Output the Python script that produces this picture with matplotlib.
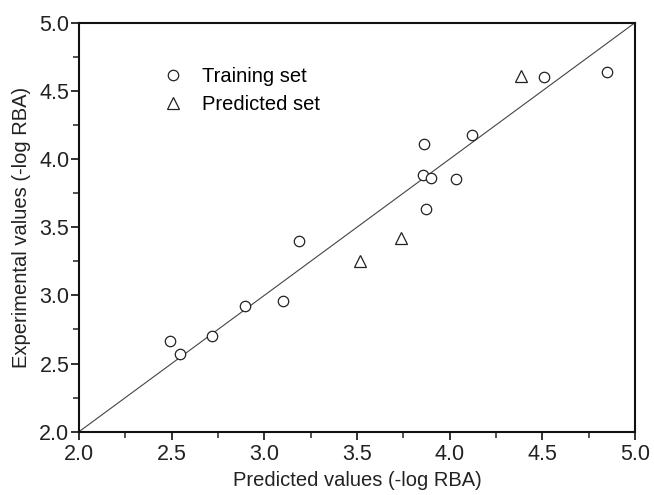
import matplotlib
matplotlib.use('Agg')
import matplotlib.pyplot as plt
from matplotlib.ticker import MultipleLocator

plt.rcParams['font.family'] = ['Liberation Sans', 'DejaVu Sans']

# training set (predicted, experimental)
train_pred = [2.49, 2.545, 2.72, 2.895, 3.10, 3.185, 3.855, 3.863, 3.90, 3.872, 4.036, 4.12, 4.507, 4.85]
train_exp = [2.662, 2.569, 2.699, 2.924, 2.958, 3.40, 3.886, 4.113, 3.864, 3.637, 3.854, 4.179, 4.604, 4.639]

# predicted (test) set
test_pred = [3.518, 3.736, 4.387]
test_exp = [3.253, 3.424, 4.609]

fig = plt.figure(figsize=(6.54, 4.95), dpi=100)
ax = fig.add_axes([79/654, 1 - 431.7/495, (635-79)/654, (431.7-22.7)/495])

ax.plot([2.0, 5.0], [2.0, 5.0], color='#444444', lw=0.8, zorder=1)
ax.plot(train_pred, train_exp, 'o', ms=7.5, mfc='white', mec='#222222', mew=0.9,
        ls='none', label='Training set', zorder=3)
ax.plot(test_pred, test_exp, '^', ms=8.5, mfc='white', mec='#222222', mew=0.9,
        ls='none', label='Predicted set', zorder=3)

ax.set_xlim(2.0, 5.0)
ax.set_ylim(2.0, 5.0)
ax.xaxis.set_major_locator(MultipleLocator(0.5))
ax.yaxis.set_major_locator(MultipleLocator(0.5))
ax.xaxis.set_minor_locator(MultipleLocator(0.25))
ax.yaxis.set_minor_locator(MultipleLocator(0.25))
ax.tick_params(which='major', direction='out', length=6, width=1.3, labelsize=15.5,
               colors='#222222')
ax.tick_params(axis='y', which='major', pad=1)
ax.tick_params(axis='x', which='major', pad=3)
ax.tick_params(which='minor', direction='out', length=4, width=1.1, colors='#222222')
for s in ax.spines.values():
    s.set_linewidth(1.5)
    s.set_color('#111111')

ax.set_xlabel('Predicted values (-log RBA)', fontsize=14.5, color='#222222', labelpad=4)
ax.set_ylabel('Experimental values (-log RBA)', fontsize=14.5, color='#222222', labelpad=6)

leg = ax.legend(loc='upper left', bbox_to_anchor=(0.12, 0.935), frameon=False,
                fontsize=14.5, handletextpad=1.0, labelspacing=0.45, handlelength=0.9)

fig.savefig('out.png', dpi=100)
